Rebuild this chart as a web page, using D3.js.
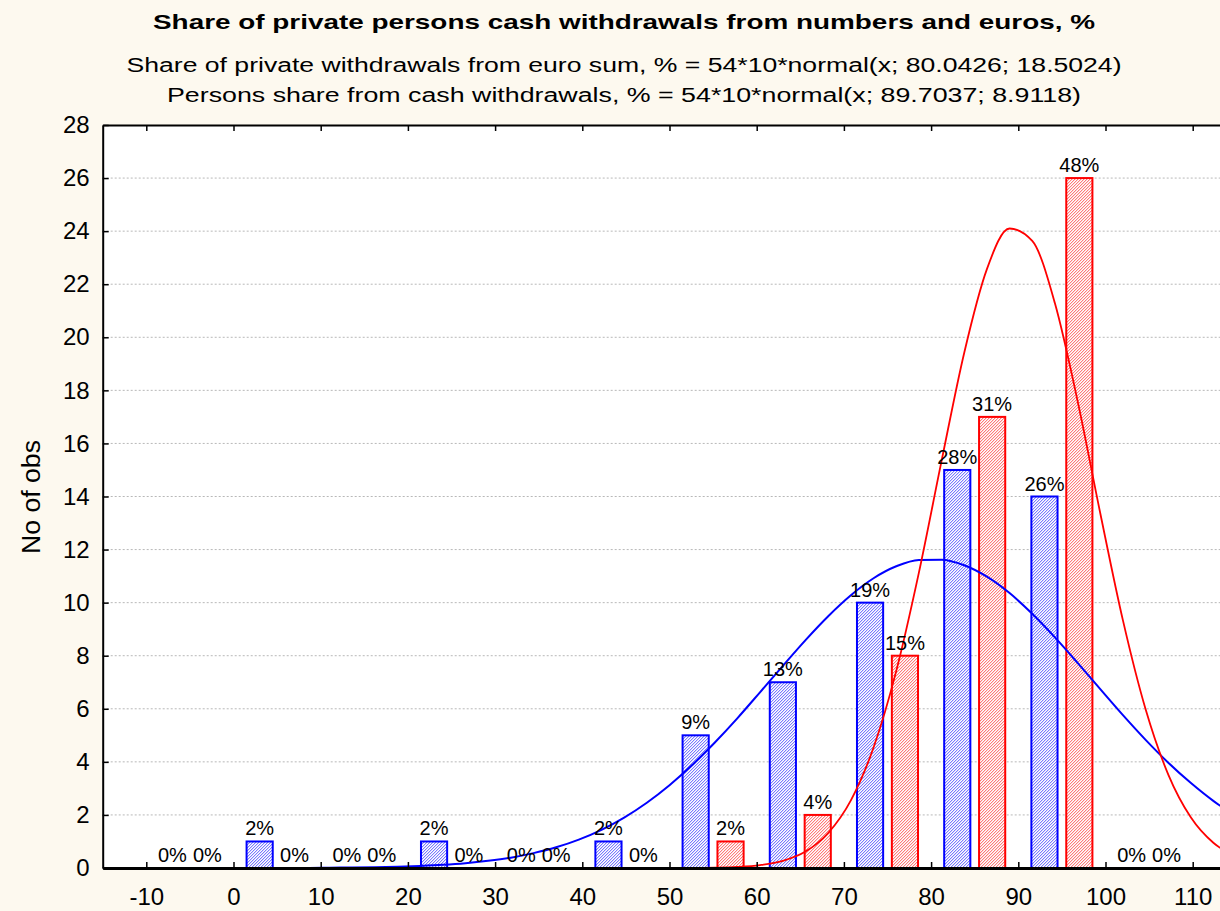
<!DOCTYPE html>
<html>
<head>
<meta charset="utf-8">
<script src="https://cdn.jsdelivr.net/npm/d3@7"></script>
<style>
  html, body { margin: 0; padding: 0; background: #fdf9ef; }
  svg { display: block; }
  text { font-family: "Liberation Sans", Arial, sans-serif; fill: #000; }
</style>
</head>
<body>
<svg id="chart" width="1220" height="911"></svg>
<script>
// Histogram bins (lower edge of each 10-wide class)
const binStarts = [-10, 0, 10, 20, 30, 40, 50, 60, 70, 80, 90, 100];
// Share of private withdrawals from euro sum, % (counts per class)
const euroCounts = [0, 1, 0, 1, 0, 1, 5, 7, 10, 15, 14, 0];
// Persons share from cash withdrawals, % (counts per class)
const personsCounts = [0, 0, 0, 0, 0, 0, 1, 2, 8, 17, 26, 0];

// Fitted normal curves, sampled along x
const curveX = [-15, -12.4, -9.8, -7.2, -4.6, -2, 0.6, 3.2, 5.8, 8.4, 11, 13.6, 16.2, 18.8, 21.4, 24, 26.6, 29.2, 31.8, 34.4,
  37, 39.6, 42.2, 44.8, 47.4, 50, 52.6, 55.2, 57.8, 60.4, 63, 65.6, 68.2, 70.8, 73.4, 76, 78.6, 81.2, 83.8, 86.4,
  89, 91.6, 94.2, 96.8, 99.4, 102, 104.6, 107.2, 109.8, 112.4, 115];
const euroFit = [0, 0, 0, 0, 0, 0, 0, 0, 0, 0, 0.01, 0.02, 0.03, 0.05, 0.08, 0.12, 0.18, 0.27, 0.39, 0.56,
  0.78, 1.07, 1.44, 1.90, 2.46, 3.12, 3.88, 4.73, 5.65, 6.63, 7.62, 8.59, 9.49, 10.28, 10.92, 11.37, 11.61, 11.62, 11.41, 10.98,
  10.36, 9.58, 8.69, 7.73, 6.74, 5.76, 4.83, 3.97, 3.20, 2.52, 1.95];
const personsFit = [0, 0, 0, 0, 0, 0, 0, 0, 0, 0, 0, 0, 0, 0, 0, 0, 0, 0, 0, 0,
  0, 0, 0, 0, 0, 0, 0, 0.01, 0.04, 0.11, 0.27, 0.62, 1.32, 2.55, 4.54, 7.42, 11.13, 15.34, 19.42, 22.57,
  24.10, 23.63, 21.28, 17.60, 13.37, 9.33, 5.98, 3.52, 1.90, 0.94, 0.43];

const xTicks = [-10, 0, 10, 20, 30, 40, 50, 60, 70, 80, 90, 100, 110];
const yTicks = [0, 2, 4, 6, 8, 10, 12, 14, 16, 18, 20, 22, 24, 26, 28];

const titleText = "Share of private persons cash withdrawals from numbers and euros, %";
const subtitle1 = "Share of private withdrawals from euro sum, % = 54*10*normal(x; 80.0426; 18.5024)";
const subtitle2 = "Persons share from cash withdrawals, % = 54*10*normal(x; 89.7037; 8.9118)";
const yTitle = "No of obs";

const W = 1220, H = 911;
const plotLeft = 102.7, plotTop = 125, plotBottom = 868;
const x = d3.scaleLinear().domain([-15, 115]).range([plotLeft, plotLeft + 130 * 8.72]);
const y = d3.scaleLinear().domain([0, 28]).range([plotBottom, plotTop]);

const svg = d3.select("#chart");
svg.append("rect").attr("width", W).attr("height", H).attr("fill", "#fdf9ef");

// fine diagonal hatching for the bar fills
const defs = svg.append("defs");
function hatch(id, dark, light) {
  const p = defs.append("pattern").attr("id", id).attr("patternUnits", "userSpaceOnUse")
    .attr("width", 3).attr("height", 3);
  p.append("rect").attr("width", 3).attr("height", 3).attr("fill", "#fff");
  [[0, 2], [1, 1], [2, 0]].forEach(([px, py]) =>
    p.append("rect").attr("x", px).attr("y", py).attr("width", 1).attr("height", 1).attr("fill", dark));
  [[1, 2], [2, 1], [0, 0]].forEach(([px, py]) =>
    p.append("rect").attr("x", px).attr("y", py).attr("width", 1).attr("height", 1).attr("fill", light));
}
hatch("hatchBlue", "#7a7aff", "#d6d6fc");
hatch("hatchRed", "#ff7a7a", "#fcd6d6");
defs.append("clipPath").attr("id", "plotClip").append("rect")
  .attr("x", x(-15)).attr("y", plotTop).attr("width", x(115) - x(-15)).attr("height", plotBottom - plotTop);

// plot area
svg.append("rect").attr("x", x(-15)).attr("y", plotTop)
  .attr("width", x(115) - x(-15)).attr("height", plotBottom - plotTop).attr("fill", "#fff");

// horizontal dotted grid
svg.append("g").selectAll("line").data(yTicks.filter(d => d > 0 && d < 28)).join("line")
  .attr("x1", x(-15)).attr("x2", x(115))
  .attr("y1", d => y(d)).attr("y2", d => y(d))
  .attr("stroke", "#b8b8b8").attr("stroke-width", 1).attr("stroke-dasharray", "2,2");

// titles
svg.append("text").attr("x", 624).attr("y", 29).attr("text-anchor", "middle")
  .attr("font-size", 21).attr("font-weight", "bold")
  .attr("textLength", 942).attr("lengthAdjust", "spacingAndGlyphs").text(titleText);
svg.append("text").attr("x", 624).attr("y", 72).attr("text-anchor", "middle")
  .attr("font-size", 20).attr("textLength", 995).attr("lengthAdjust", "spacingAndGlyphs").text(subtitle1);
svg.append("text").attr("x", 624).attr("y", 102).attr("text-anchor", "middle")
  .attr("font-size", 20).attr("textLength", 914).attr("lengthAdjust", "spacingAndGlyphs").text(subtitle2);

// bars
const total = d3.sum(euroCounts);
const bw = x(3) - x(0);
const series = [
  { counts: personsCounts, offset: 5.5, fill: "url(#hatchRed)", stroke: "#ff0000" },
  { counts: euroCounts, offset: 1.5, fill: "url(#hatchBlue)", stroke: "#0000ff" }
];
const plot = svg.append("g").attr("clip-path", "url(#plotClip)");
series.forEach(s => {
  plot.append("g").selectAll("rect").data(binStarts.map((b, i) => ({ b, v: s.counts[i] }))).join("rect")
    .attr("x", d => x(d.b + s.offset)).attr("width", bw)
    .attr("y", d => y(d.v)).attr("height", d => y(0) - y(d.v))
    .attr("fill", s.fill).attr("stroke", s.stroke).attr("stroke-width", 2);
});

// value labels
series.forEach(s => {
  svg.append("g").selectAll("text").data(binStarts.map((b, i) => ({ b, v: s.counts[i] }))).join("text")
    .attr("x", d => x(d.b + s.offset) + bw / 2).attr("y", d => y(d.v) - 6)
    .attr("text-anchor", "middle").attr("font-size", 20)
    .text(d => Math.round(d.v / total * 100) + "%");
});

// fitted curves
const line = d3.line().x(d => x(d[0])).y(d => y(d[1])).curve(d3.curveMonotoneX);
plot.append("path").datum(curveX.map((v, i) => [v, euroFit[i]]))
  .attr("d", line).attr("fill", "none").attr("stroke", "#0000ff").attr("stroke-width", 2);
plot.append("path").datum(curveX.map((v, i) => [v, personsFit[i]]))
  .attr("d", line).attr("fill", "none").attr("stroke", "#ff0000").attr("stroke-width", 1.8);

// axes
const yAxis = svg.append("g").attr("transform", `translate(${plotLeft},0)`)
  .call(d3.axisLeft(y).tickValues(yTicks).tickSizeInner(-6).tickSizeOuter(0).tickPadding(13)
    .tickFormat(d => String(d)));
const xAxis = svg.append("g").attr("transform", `translate(0,${plotBottom})`)
  .call(d3.axisBottom(x).tickValues(xTicks).tickSizeInner(-6).tickSizeOuter(0).tickPadding(20)
    .tickFormat(d => String(d)));
const xTop = svg.append("g").attr("transform", `translate(0,${plotTop})`)
  .call(d3.axisTop(x).tickValues(xTicks).tickSizeInner(-6).tickSizeOuter(0).tickFormat(""));
[yAxis, xAxis, xTop].forEach(g => {
  g.select(".domain").attr("stroke", "#000").attr("stroke-width", 2);
  g.selectAll(".tick line").attr("stroke", "#000").attr("stroke-width", 1.5);
  g.selectAll(".tick text").attr("font-family", "Liberation Sans, Arial, sans-serif").attr("fill", "#000");
});
xAxis.select(".domain").attr("stroke-width", 3);
yAxis.selectAll(".tick text").attr("font-size", 24);
xAxis.selectAll(".tick text").attr("font-size", 24);

// y axis title
svg.append("text").attr("transform", `translate(40,497) rotate(-90)`)
  .attr("text-anchor", "middle").attr("font-size", 25)
  .attr("textLength", 114).attr("lengthAdjust", "spacingAndGlyphs").text(yTitle);
</script>
</body>
</html>
